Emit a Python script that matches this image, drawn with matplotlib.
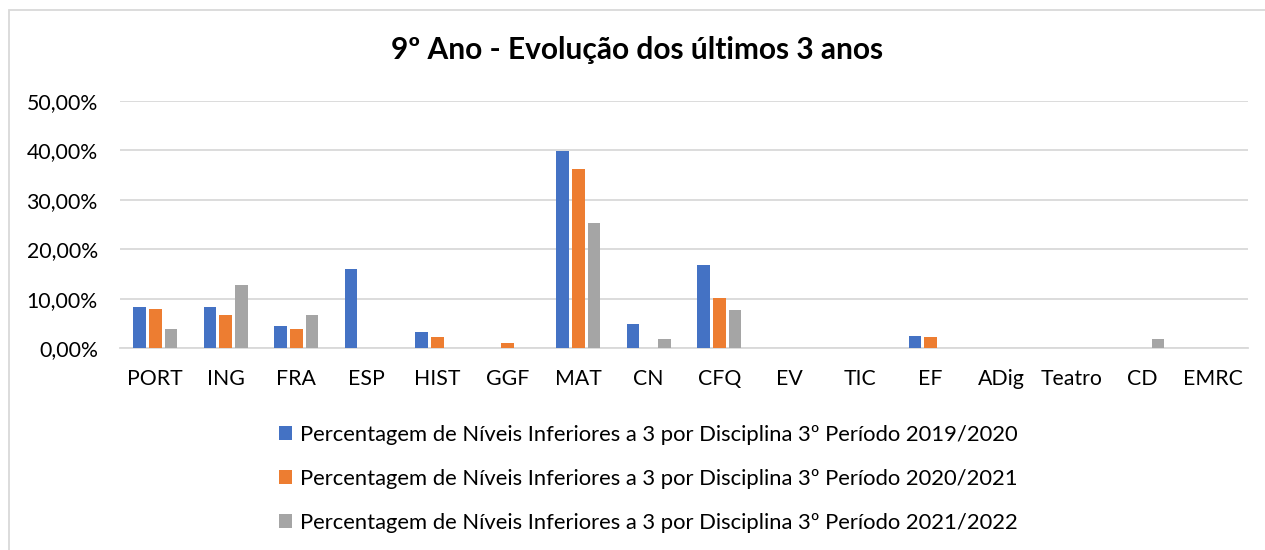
import matplotlib.pyplot as plt
from matplotlib.patches import Rectangle
from matplotlib.ticker import FuncFormatter
import numpy as np

disciplinas = ["PORT", "ING", "FRA", "ESP", "HIST", "GGF", "MAT", "CN", "CFQ",
               "EV", "TIC", "EF", "ADig", "Teatro", "CD", "EMRC"]

# percentagens (0-1)
p2019 = [0.084, 0.084, 0.044, 0.159, 0.033, 0.0, 0.398, 0.049, 0.169,
         0.0, 0.0, 0.025, 0.0, 0.0, 0.0, 0.0]
p2020 = [0.078, 0.067, 0.039, 0.0, 0.022, 0.011, 0.363, 0.0, 0.101,
         0.0, 0.0, 0.022, 0.0, 0.0, 0.0, 0.0]
p2021 = [0.038, 0.127, 0.066, 0.0, 0.0, 0.0, 0.254, 0.018, 0.077,
         0.0, 0.0, 0.0, 0.0, 0.0, 0.019, 0.0]

legendas = ["Percentagem de Níveis Inferiores a 3 por Disciplina 3º Período 2019/2020",
            "Percentagem de Níveis Inferiores a 3 por Disciplina 3º Período 2020/2021",
            "Percentagem de Níveis Inferiores a 3 por Disciplina 3º Período 2021/2022"]
cores = ["#4472C4", "#ED7D31", "#A5A5A5"]

plt.rcParams['font.family'] = ['Lato', 'DejaVu Sans']

fig = plt.figure(figsize=(12.65, 5.5), dpi=100)
ax = fig.add_axes([120/1265, 1-348/550, (1248-120)/1265, (348-101)/550])

x = np.arange(len(disciplinas))
largura = 0.178
passo = 0.222
for i, (serie, cor, lab) in enumerate(zip([p2019, p2020, p2021], cores, legendas)):
    ax.bar(x + (i-1)*passo, serie, width=largura, color=cor, label=lab, zorder=3)

ax.set_xlim(-0.5, len(disciplinas)-0.5)
ax.set_ylim(0, 0.5)
ax.set_yticks(np.arange(0, 0.51, 0.1))
ax.yaxis.set_major_formatter(FuncFormatter(lambda v, p: f"{v*100:.2f}%".replace(".", ",")))
ax.set_xticks(x)
ax.set_xticklabels(disciplinas)
ax.tick_params(axis='both', length=0, labelsize=15.3, colors="#000000")
ax.tick_params(axis='y', pad=16)
ax.tick_params(axis='x', pad=15)
ax.grid(axis='y', color="#d9d9d9", linewidth=1.3, zorder=0)
for s in ["top", "right", "left"]:
    ax.spines[s].set_visible(False)
ax.spines["bottom"].set_color("#d9d9d9")
ax.spines["bottom"].set_linewidth(1.3)

fig.text(637/1265, 1-50/550, "9º Ano - Evolução dos últimos 3 anos",
         ha="center", va="center", fontsize=21.5, fontweight="bold")

fig.legend(loc="upper left", bbox_to_anchor=(259/1265, 1-405/550), frameon=False,
           fontsize=15.8, handlelength=0.62, handleheight=0.62, handletextpad=0.35,
           labelspacing=1.1)

# moldura do gráfico
fig.patches.append(Rectangle((9/1265, -0.1), 1.2, 1-10/550+0.1, transform=fig.transFigure,
                             fill=False, edgecolor="#d9d9d9", linewidth=1.3))

plt.savefig("out.png", dpi=100)
